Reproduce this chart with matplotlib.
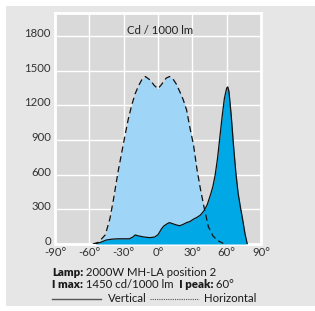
import matplotlib
matplotlib.use("Agg")
import matplotlib.pyplot as plt
from matplotlib.patches import Rectangle
from matplotlib.lines import Line2D
from matplotlib.transforms import ScaledTranslation

plt.rcParams['font.family'] = ['Lato', 'DejaVu Sans']

# Horizontal curve (dashed, light fill)
h_angles = [-57, -52, -46, -42, -39, -35, -30, -26, -23, -20, -17, -14, -11, -7, -3, 0,
            3, 7, 10, 13, 16, 19, 22, 25, 28, 31, 34, 37, 40, 44, 48, 52, 57]
h_values = [0, 15, 80, 220, 380, 620, 880, 1080, 1200, 1300, 1370, 1425, 1450, 1420, 1370, 1345,
            1380, 1435, 1450, 1430, 1385, 1320, 1250, 1160, 1000, 860, 650, 480, 330, 150, 70, 30, 5]

# Vertical curve (solid, dark fill)
v_angles = [-55, -50, -45, -40, -35, -30, -25, -22, -20, -17, -12, -7, -3, 0, 3, 5, 8, 10, 13,
            16, 19, 22, 25, 28, 31, 34, 37, 40, 43, 46, 48, 50, 52, 54, 56, 58, 60, 61, 62,
            64, 66, 68, 70, 72, 74, 76, 78]
v_values = [0, 15, 35, 42, 45, 45, 45, 60, 78, 70, 60, 55, 60, 80, 130, 155, 175, 185, 175,
            165, 158, 170, 185, 195, 215, 230, 250, 285, 340, 430, 500, 600, 740, 920, 1100,
            1260, 1350, 1360, 1320, 1110, 850, 620, 440, 320, 210, 90, 0]

x_ticks = [-90, -60, -30, 0, 30, 60, 90]
x_labels = ['-90°', '-60°', '-30°', '0°', '30°', '60°', '90°']
y_ticks = [0, 300, 600, 900, 1200, 1500, 1800]

title_text = 'Cd / 1000 lm'
lamp_label, lamp_text = 'Lamp:', ' 2000W MH-LA position 2'
imax_label, imax_text = 'I max:', ' 1450 cd/1000 lm'
ipeak_label, ipeak_text = '  I peak:', ' 60°'
leg_labels = ['Vertical', 'Horizontal']

W, H = 315, 311
FS = 8.2
fig = plt.figure(figsize=(W / 100, H / 100), dpi=100)
fig.patch.set_facecolor('white')
bg = Rectangle((6 / W, 5 / H), (W - 6) / W, (H - 11) / H,
               transform=fig.transFigure, facecolor='#e6e6e6', edgecolor='none', zorder=-5)
fig.add_artist(bg)

ax = fig.add_axes([55 / W, (H - 244) / H, 206 / W, 231 / H])
ax.set_zorder(1)
ax.set_facecolor('#d9d9d9')
ax.set_xlim(-90, 90)
ax.set_ylim(0, 2000)
ax.set_xticks(x_ticks)
ax.set_xticklabels(x_labels)
ax.set_yticks(y_ticks)
ax.tick_params(length=0, labelsize=FS, colors='#333333', pad=3)
ax.tick_params(axis='x', pad=2)
ax.grid(True, color='white', linewidth=1.0)
ax.set_axisbelow(True)
for s in ax.spines.values():
    s.set_color('white')
    s.set_linewidth(2)
shift = ScaledTranslation(0, 3.5 / 100, fig.dpi_scale_trans)
for lab in ax.get_yticklabels():
    lab.set_transform(lab.get_transform() + shift)

ax.fill_between(h_angles, 0, h_values, color='#9fd5f6', zorder=2, linewidth=0)
ax.fill_between(v_angles, 0, v_values, color='#00a8e6', zorder=3, linewidth=0)
ax.plot(v_angles, v_values, color='#111111', linewidth=0.9, zorder=4)
ax.plot(h_angles, h_values, color='#111111', linewidth=0.9, linestyle=(0, (5, 3)), zorder=5)

fig.text(160 / W, 1 - 30 / H, title_text, ha='center', va='center', fontsize=FS, color='#222222', zorder=3)

renderer = fig.canvas.get_renderer()

def run_text(x_px, y_px, parts):
    x = x_px
    for txt, bold in parts:
        t = fig.text(x / W, 1 - y_px / H, txt, ha='left', va='center', fontsize=FS,
                     fontweight='heavy' if bold else 'normal', color='#1a1a1a')
        bb = t.get_window_extent(renderer=renderer)
        x += bb.width

run_text(52, 272, [(lamp_label, True), (lamp_text, False)])
run_text(52, 285, [(imax_label, True), (imax_text, False), (ipeak_label, True), (ipeak_text, False)])

ly = 1 - 299 / H
fig.add_artist(Line2D([52 / W, 101 / W], [ly, ly], color='#555555', linewidth=1.0, transform=fig.transFigure))
fig.text(108 / W, ly, leg_labels[0], ha='left', va='center', fontsize=FS, color='#1a1a1a')
fig.add_artist(Line2D([150 / W, 199 / W], [ly, ly], color='#555555', linewidth=0.8,
                      linestyle=(0, (1, 1)), transform=fig.transFigure))
fig.text(204 / W, ly, leg_labels[1], ha='left', va='center', fontsize=FS, color='#1a1a1a')

fig.savefig('out.png', dpi=100, facecolor=fig.get_facecolor())
